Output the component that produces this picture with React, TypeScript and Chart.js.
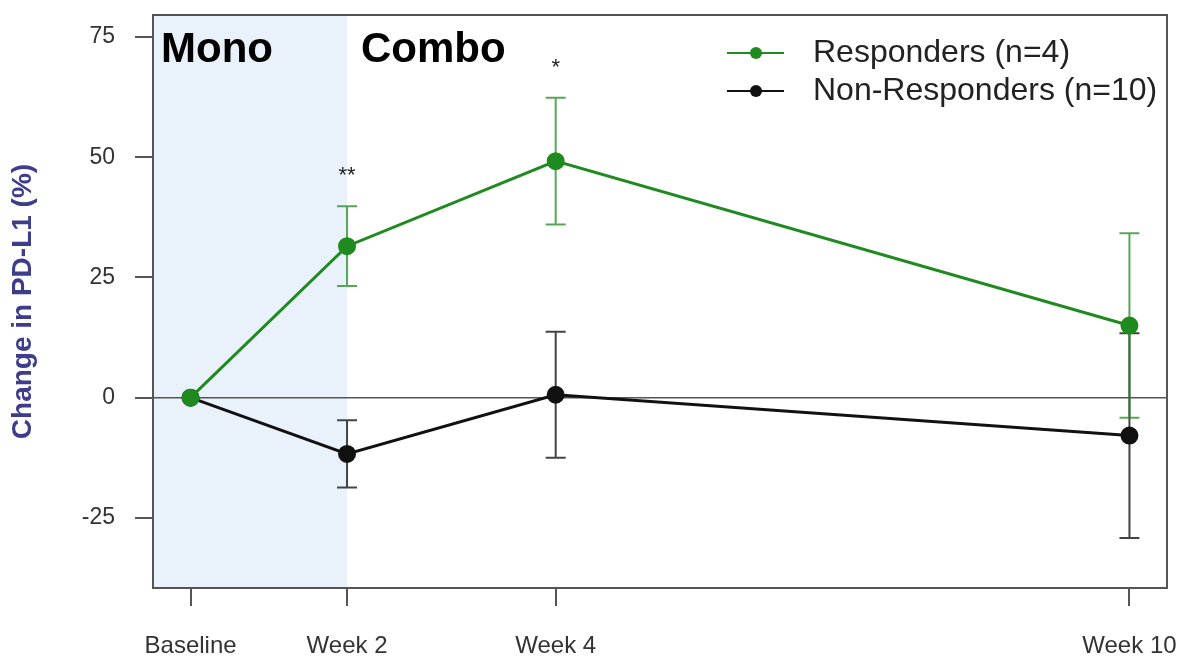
import React, { useEffect, useRef } from "react";
import { Chart, registerables } from "chart.js";

Chart.register(...registerables);

// Time points (x positions on the plotting axis) and their labels
const timeLabels = ["Baseline", "Week 2", "Week 4", "Week 10"];
const xPositions = [0, 1.5, 3.5, 9];

// Mean % change in PD-L1 and error (SEM)
const respondersMean = [0, 31.5, 49.2, 15.0];
const respondersErr = [0, 8.3, 13.2, 19.2];
const nonRespondersMean = [0, -11.7, 0.6, -7.9];
const nonRespondersErr = [0, 7.0, 13.1, 21.3];

// Significance markers per time point
const significance = ["", "**", "*", ""];

const yTicks = [-25, 0, 25, 50, 75];

const GREEN = "#1f8a1f";
const BLACK = "#111111";
const FONT = "'Liberation Sans', Arial, sans-serif";

export default function App() {
  const canvasRef = useRef<HTMLCanvasElement | null>(null);

  useEffect(() => {
    const canvas = canvasRef.current;
    if (!canvas) return;

    const backgroundPlugin = {
      id: "bgShade",
      beforeDatasetsDraw(chart: any) {
        const { ctx, chartArea, scales } = chart;
        const x = scales.x;
        const y = scales.y;
        ctx.save();
        // Mono phase shading
        const xEnd = x.getPixelForValue(xPositions[1]);
        ctx.fillStyle = "#e9f2fa";
        ctx.fillRect(chartArea.left, chartArea.top, xEnd - chartArea.left, chartArea.bottom - chartArea.top);
        // zero line
        const y0 = y.getPixelForValue(0);
        ctx.strokeStyle = "#555";
        ctx.lineWidth = 1.5;
        ctx.beginPath();
        ctx.moveTo(chartArea.left, y0);
        ctx.lineTo(chartArea.right, y0);
        ctx.stroke();
        // Phase labels
        ctx.fillStyle = "#000";
        ctx.font = `bold 42px ${FONT}`;
        ctx.textBaseline = "alphabetic";
        ctx.textAlign = "left";
        ctx.fillText("Mono", chartArea.left + 8, 62);
        ctx.fillText("Combo", xEnd + 14, 62);
        // Error bars
        const drawErr = (means: number[], errs: number[], color: string) => {
          ctx.strokeStyle = color;
          ctx.lineWidth = 2;
          means.forEach((m, i) => {
            if (!errs[i]) return;
            const px = x.getPixelForValue(xPositions[i]);
            const yt = y.getPixelForValue(m + errs[i]);
            const yb = y.getPixelForValue(m - errs[i]);
            ctx.beginPath();
            ctx.moveTo(px, yt);
            ctx.lineTo(px, yb);
            ctx.moveTo(px - 10, yt);
            ctx.lineTo(px + 10, yt);
            ctx.moveTo(px - 10, yb);
            ctx.lineTo(px + 10, yb);
            ctx.stroke();
          });
        };
        drawErr(nonRespondersMean, nonRespondersErr, "#444");
        drawErr(respondersMean, respondersErr, "rgba(31,138,31,0.75)");
        // Significance stars
        ctx.fillStyle = "#222";
        ctx.font = `22px ${FONT}`;
        ctx.textAlign = "center";
        significance.forEach((s, i) => {
          if (!s) return;
          const px = x.getPixelForValue(xPositions[i]);
          const yt = y.getPixelForValue(respondersMean[i] + respondersErr[i]);
          ctx.fillText(s, px, yt - 24);
        });
        ctx.restore();
      },
      afterDraw(chart: any) {
        const { ctx, chartArea } = chart;
        ctx.save();
        ctx.strokeStyle = "#555";
        ctx.lineWidth = 2;
        ctx.strokeRect(chartArea.left, chartArea.top, chartArea.right - chartArea.left, chartArea.bottom - chartArea.top);
        // Legend
        const items = [
          { label: "Responders (n=4)", color: GREEN, y: 53 },
          { label: "Non-Responders (n=10)", color: BLACK, y: 91 },
        ];
        items.forEach((it) => {
          ctx.strokeStyle = it.color;
          ctx.lineWidth = 2;
          ctx.beginPath();
          ctx.moveTo(727, it.y);
          ctx.lineTo(784, it.y);
          ctx.stroke();
          ctx.fillStyle = it.color;
          ctx.beginPath();
          ctx.arc(756, it.y, 6, 0, Math.PI * 2);
          ctx.fill();
          ctx.fillStyle = "#222";
          ctx.font = `32px ${FONT}`;
          ctx.textAlign = "left";
          ctx.textBaseline = "middle";
          ctx.fillText(it.label, 813, it.y);
        });
        ctx.restore();
      },
    };

    const chart = new Chart(canvas, {
      type: "line",
      data: {
        datasets: [
          {
            label: "Responders (n=4)",
            data: xPositions.map((x, i) => ({ x, y: respondersMean[i] })),
            borderColor: GREEN,
            backgroundColor: GREEN,
            pointBackgroundColor: GREEN,
            pointBorderColor: GREEN,
            borderWidth: 3,
            pointRadius: 7.5,
            tension: 0,
          },
          {
            label: "Non-Responders (n=10)",
            data: xPositions.map((x, i) => ({ x, y: nonRespondersMean[i] })),
            borderColor: BLACK,
            backgroundColor: BLACK,
            pointBackgroundColor: BLACK,
            pointBorderColor: BLACK,
            borderWidth: 3,
            pointRadius: 7.5,
            tension: 0,
          },
        ],
      },
      options: {
        animation: false,
        responsive: false,
        maintainAspectRatio: false,
        layout: { padding: { top: 15, right: 15, left: 0, bottom: 0 } },
        plugins: {
          legend: { display: false },
          tooltip: { enabled: false },
        },
        scales: {
          x: {
            type: "linear",
            min: -0.36,
            max: 9.36,
            afterBuildTicks: (axis: any) => {
              axis.ticks = xPositions.map((v) => ({ value: v }));
            },
            afterFit: (axis: any) => {
              axis.height = 69;
              axis.paddingLeft = 0;
              axis.paddingRight = 0;
            },
            ticks: {
              autoSkip: false,
              maxRotation: 0,
              color: "#333",
              font: { family: FONT, size: 24 },
              padding: 26,
              callback: (value: any) => {
                const idx = xPositions.indexOf(Number(value));
                return idx >= 0 ? timeLabels[idx] : "";
              },
            },
            grid: {
              drawOnChartArea: false,
              drawTicks: true,
              tickLength: 18,
              tickColor: "#555",
              lineWidth: 2,
            },
            border: { display: false },
          },
          y: {
            type: "linear",
            min: -39.6,
            max: 79.6,
            afterBuildTicks: (axis: any) => {
              axis.ticks = yTicks.map((v) => ({ value: v }));
            },
            afterFit: (axis: any) => {
              axis.width = 153;
              axis.paddingTop = 0;
              axis.paddingBottom = 0;
            },
            ticks: {
              color: "#333",
              font: { family: FONT, size: 23 },
              padding: 20,
            },
            grid: {
              drawOnChartArea: false,
              drawTicks: true,
              tickLength: 18,
              tickColor: "#555",
              lineWidth: 2,
            },
            border: { display: false },
            title: {
              display: true,
              text: "Change in PD-L1 (%)",
              color: "#3d3d8c",
              font: { family: FONT, size: 28, weight: "bold" },
              padding: { top: 6, bottom: 0 },
            },
          },
        },
      },
      plugins: [backgroundPlugin],
    });

    return () => chart.destroy();
  }, []);

  return (
    <div style={{ position: "absolute", left: 0, top: 0, width: 1182, height: 657, background: "#fff" }}>
      <canvas ref={canvasRef} width={1182} height={657} style={{ display: "block" }} />
    </div>
  );
}
